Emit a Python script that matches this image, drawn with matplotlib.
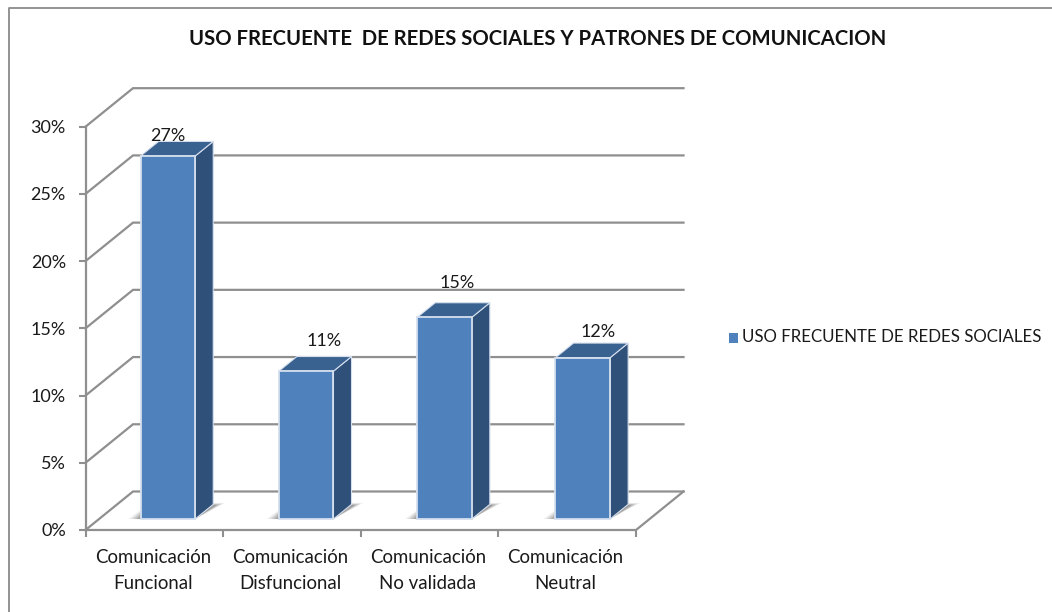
import matplotlib
matplotlib.use("Agg")
import matplotlib.pyplot as plt
from matplotlib.patches import Polygon, Rectangle
from matplotlib.ticker import FuncFormatter

categories = ["Comunicación\nFuncional", "Comunicación\nDisfuncional",
              "Comunicación\nNo validada", "Comunicación\nNeutral"]
values = [27, 11, 15, 12]
y_ticks = [0, 5, 10, 15, 20, 25, 30]
title = "USO FRECUENTE  DE REDES SOCIALES Y PATRONES DE COMUNICACION"
series_name = "USO FRECUENTE DE REDES SOCIALES"

# label offsets from the bar-top centre, in pixels (style, not data)
label_dx = [0, 18, 13, 15]
label_dy = [20, 30, 34, 26]

W, H = 1052, 612
PX = 72 / 100
plt.rcParams["font.family"] = ["Lato", "DejaVu Sans"]
fig = plt.figure(figsize=(W / 100, H / 100), dpi=100, facecolor="white")
ax = fig.add_axes([85.5 / W, 1 - 530 / H, 550.5 / W, 403.3 / H])
ax.set_xlim(0, 4)
ax.set_ylim(0, 30)
ax.patch.set_visible(False)
for s in ax.spines.values():
    s.set_visible(False)

DX, DY = 47.5 / 137.6, 38.5 / 13.44
GRID = "#8f8f8f"
TXT = "#1a1a1a"

for v in y_ticks:
    ax.plot([0, DX, 4 + DX], [v, v + DY, v + DY], color=GRID, lw=1.6, clip_on=False, zorder=1,
            solid_joinstyle="miter")
ax.plot([0, 4, 4 + DX], [0, 0, DY], color=GRID, lw=1.6, clip_on=False, zorder=1)
ax.plot([0, 0], [0, 30], color=GRID, lw=1.6, clip_on=False, zorder=1)

ax.set_xticks(range(5))
ax.set_xticklabels([])
ax.set_yticks(y_ticks)
ax.yaxis.set_major_formatter(FuncFormatter(lambda v, p: f"{v:.0f}%"))
ax.tick_params(axis="y", length=4.7, width=1.5, color=GRID, labelsize=13, labelcolor=TXT, pad=9.4)
ax.tick_params(axis="x", length=5, width=1.5, color=GRID)
for i, c in enumerate(categories):
    ax.text(i + 0.5 - 0.011, -1.42, c, ha="center", va="top", fontsize=13.4, color=TXT, linespacing=1.62)

f0 = 0.285
f1 = 0.665
hw = 27.3 / 137.6
for i, v in enumerate(values):
    cx = i + 0.5 + 0.005 * i
    l = cx - hw + f0 * DX
    r = cx + hw + f0 * DX
    base = f0 * DY
    ddx = (f1 - f0) * DX
    ddy = (f1 - f0) * DY
    for k, a in zip([0.0, 0.2, 0.4, 0.6, 0.8], [0.07, 0.10, 0.13, 0.16, 0.20]):
        ax.add_patch(Polygon([(l - 0.09 * (1 - k), base), (r, base),
                              (r + 0.218 - 0.08 * k, base + 1.2 - 0.2 * k), (l + 0.07, base + 1.2 - 0.2 * k)],
                             closed=True, fc="#404040", ec="none", alpha=a, zorder=2, clip_on=False))
    ax.add_patch(Rectangle((l, base), r - l, v, fc="#4f81bd", ec="#d5dfee", lw=1.3, zorder=5, clip_on=False))
    ax.add_patch(Polygon([(r, base), (r + ddx, base + ddy), (r + ddx, base + ddy + v), (r, base + v)],
                         closed=True, fc="#2f5078", ec="#d5dfee", lw=0.8, zorder=4, clip_on=False))
    ax.add_patch(Polygon([(l, base + v), (l + ddx, base + v + ddy), (r + ddx, base + v + ddy), (r, base + v)],
                         closed=True, fc="#3a6290", ec="#d5dfee", lw=0.8, zorder=4, clip_on=False))
    ax.annotate(f"{v}%", xy=(cx + f0 * DX, base + v), xytext=(label_dx[i] * PX, label_dy[i] * PX),
                textcoords="offset points", ha="center", va="center",
                fontsize=13, color=TXT, zorder=6, annotation_clip=False)

fig.patches.append(Rectangle((728.5 / W, 1 - 343 / H), 9.5 / W, 10 / H, transform=fig.transFigure,
                             fc="#4f81bd", ec="none"))
fig.text(742 / W, 1 - 337 / H, series_name, ha="left", va="center", fontsize=12.15, color=TXT)
fig.text(538 / W, 1 - 39 / H, title, ha="center", va="center", fontsize=14.6, fontweight="bold", color="#111111")
fig.add_artist(plt.Line2D([9.5 / W, 9.5 / W, 1], [0, 1 - 7.5 / H, 1 - 7.5 / H], color="#8a8a8a", lw=1.3,
                          transform=fig.transFigure))
fig.savefig("out.png", dpi=100)
